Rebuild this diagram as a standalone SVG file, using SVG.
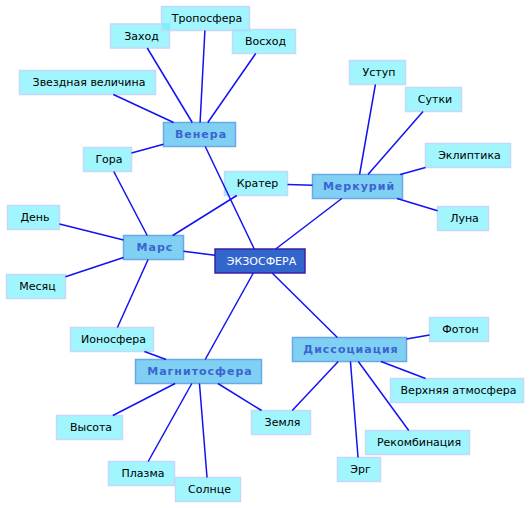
<svg xmlns="http://www.w3.org/2000/svg" width="531" height="508" viewBox="0 0 531 508">
<style>
text{font-family:"DejaVu Sans","Verdana",sans-serif;font-size:11px;text-anchor:middle}
.leaf rect{fill:rgb(96,240,250);fill-opacity:0.6;stroke:#c4d8fa;stroke-width:1.5}
.leaf text{fill:#000}
.hub rect{fill:#80d0f4;stroke:#6aa8e8;stroke-width:1.5}
.hub text{fill:#3b64d1;font-weight:bold;letter-spacing:1px}
.root rect{fill:#3366cc;stroke:#3a22a0;stroke-width:1.5}
.root text{fill:#fff}
#connectors line{stroke:#1212f2;stroke-width:1.5}
</style>
<rect width="531" height="508" fill="#fff"/>
<g id="n-zakhod" class="leaf"><rect x="110.5" y="24" width="59" height="24"/><text x="141.5" y="39.5">Заход</text></g>
<g id="n-troposfera" class="leaf"><rect x="161.5" y="6.5" width="88" height="24"/><text x="207" y="22">Тропосфера</text></g>
<g id="n-voskhod" class="leaf"><rect x="232.5" y="29.5" width="63" height="24"/><text x="265.5" y="45">Восход</text></g>
<g id="n-zvezdnaya" class="leaf"><rect x="19.5" y="70.5" width="136" height="24"/><text x="89" y="86">Звездная величина</text></g>
<g id="n-gora" class="leaf"><rect x="83.5" y="147.5" width="48" height="24"/><text x="109" y="163">Гора</text></g>
<g id="n-krater" class="leaf"><rect x="224.5" y="171.5" width="63" height="24"/><text x="257.5" y="187">Кратер</text></g>
<g id="n-ustup" class="leaf"><rect x="349.5" y="60.5" width="56" height="24"/><text x="379" y="76">Уступ</text></g>
<g id="n-sutki" class="leaf"><rect x="405.5" y="87.5" width="56" height="24"/><text x="435" y="103">Сутки</text></g>
<g id="n-ekliptika" class="leaf"><rect x="425.5" y="143.5" width="85" height="24"/><text x="469.5" y="159">Эклиптика</text></g>
<g id="n-luna" class="leaf"><rect x="437.5" y="206.5" width="51" height="24"/><text x="464.5" y="222">Луна</text></g>
<g id="n-den" class="leaf"><rect x="7.5" y="205.5" width="52" height="24"/><text x="35" y="221">День</text></g>
<g id="n-mesyats" class="leaf"><rect x="6.5" y="274.5" width="59" height="24"/><text x="37.5" y="290">Месяц</text></g>
<g id="n-ionosfera" class="leaf"><rect x="70.5" y="327.5" width="83" height="24"/><text x="113.5" y="343">Ионосфера</text></g>
<g id="n-foton" class="leaf"><rect x="429.5" y="317.5" width="59" height="24"/><text x="460.5" y="333">Фотон</text></g>
<g id="n-verkhnyaya" class="leaf"><rect x="390.5" y="378.5" width="133" height="24"/><text x="458.5" y="394">Верхняя атмосфера</text></g>
<g id="n-vysota" class="leaf"><rect x="56.5" y="415.5" width="66" height="24"/><text x="91" y="431">Высота</text></g>
<g id="n-zemlya" class="leaf"><rect x="251.5" y="410.5" width="59" height="24"/><text x="282.5" y="426">Земля</text></g>
<g id="n-rekombinatsiya" class="leaf"><rect x="365.5" y="430.5" width="104" height="24"/><text x="419" y="446">Рекомбинация</text></g>
<g id="n-erg" class="leaf"><rect x="337.5" y="457.5" width="43" height="24"/><text x="360.5" y="473">Эрг</text></g>
<g id="n-plazma" class="leaf"><rect x="108.5" y="461.5" width="66" height="24"/><text x="143" y="477">Плазма</text></g>
<g id="n-solntse" class="leaf"><rect x="175.5" y="477.5" width="65" height="24"/><text x="209.5" y="493">Солнце</text></g>
<g id="n-venera" class="hub"><rect x="163.5" y="122.5" width="72" height="24"/><text x="201" y="138">Венера</text></g>
<g id="n-merkuriy" class="hub"><rect x="312.5" y="174.5" width="90" height="24"/><text x="359" y="190">Меркурий</text></g>
<g id="n-mars" class="hub"><rect x="123.5" y="235.5" width="60" height="24"/><text x="155" y="251">Марс</text></g>
<g id="n-magnitosfera" class="hub"><rect x="135.5" y="359.5" width="126" height="24"/><text x="200" y="375">Магнитосфера</text></g>
<g id="n-dissotsiatsiya" class="hub"><rect x="292.5" y="337.5" width="114" height="24"/><text x="351" y="353">Диссоциация</text></g>
<g id="n-ekzosfera" class="root"><rect x="215" y="249" width="90" height="24"/><text x="261.5" y="264.5">ЭКЗОСФЕРА</text></g>
<g id="connectors">
<line x1="200.1" y1="122.5" x2="204.9" y2="30.5"/>
<line x1="192.25" y1="122.5" x2="147.25" y2="48"/>
<line x1="207.8" y1="122.5" x2="255.7" y2="53.5"/>
<line x1="173.65" y1="122.5" x2="113.35" y2="94.5"/>
<line x1="163.5" y1="144.3" x2="131.5" y2="153"/>
<line x1="205.24" y1="146.5" x2="254.26" y2="249"/>
<line x1="113.77" y1="171.5" x2="147.23" y2="235.5"/>
<line x1="287.5" y1="184.43" x2="312.5" y2="185.17"/>
<line x1="172.72" y1="235.5" x2="236.78" y2="195.5"/>
<line x1="359.6" y1="174.5" x2="375.4" y2="84.5"/>
<line x1="367.98" y1="174.5" x2="423.02" y2="111.5"/>
<line x1="400.27" y1="174.5" x2="425.5" y2="167.43"/>
<line x1="397.06" y1="198.5" x2="437.5" y2="210.77"/>
<line x1="341.8" y1="198.5" x2="275.7" y2="249"/>
<line x1="183.5" y1="251.3" x2="215" y2="255.3"/>
<line x1="123.5" y1="240" x2="59.5" y2="224"/>
<line x1="123.5" y1="257.46" x2="65.5" y2="276.71"/>
<line x1="148.09" y1="259.5" x2="117.41" y2="327.5"/>
<line x1="144.44" y1="351.5" x2="166.06" y2="359.5"/>
<line x1="253.32" y1="273" x2="205.18" y2="359.5"/>
<line x1="272.14" y1="273" x2="337.36" y2="337.5"/>
<line x1="175.14" y1="383.5" x2="112.86" y2="415.5"/>
<line x1="191.8" y1="383.5" x2="148.2" y2="461.5"/>
<line x1="199.47" y1="383.5" x2="207.03" y2="477.5"/>
<line x1="217.91" y1="383.5" x2="261.59" y2="410.5"/>
<line x1="338.24" y1="361.5" x2="292.26" y2="410.5"/>
<line x1="406.5" y1="339.09" x2="429.5" y2="334.89"/>
<line x1="380.97" y1="361.5" x2="425.53" y2="378.5"/>
<line x1="358.27" y1="361.5" x2="408.73" y2="430.5"/>
<line x1="350.45" y1="361.5" x2="358.05" y2="457.5"/>
</g>
</svg>
